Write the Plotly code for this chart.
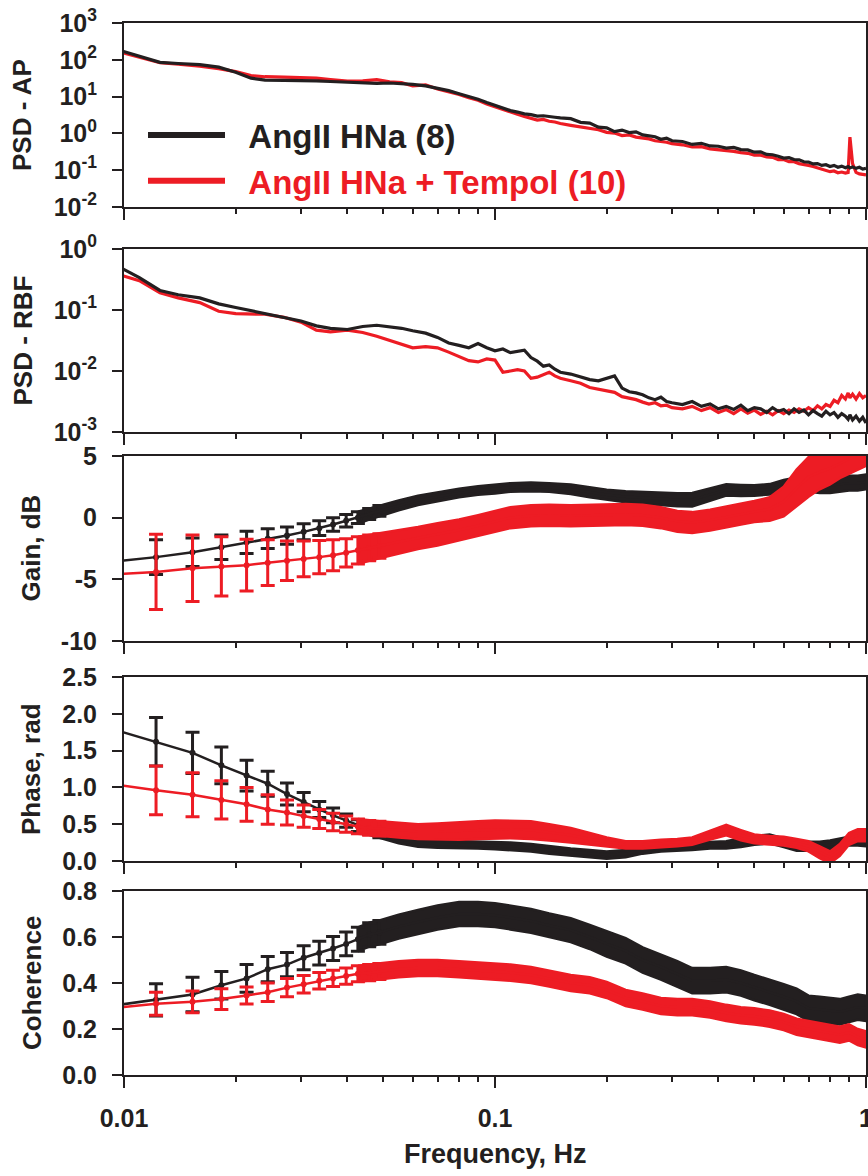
import plotly.graph_objects as go
from plotly.subplots import make_subplots

INK = "#231f20"
RED = "#ed1c24"
FONT = "Liberation Sans, Arial, sans-serif"

# ---------------- power spectra ----------------
psd_freq = [0.0092, 0.011, 0.0125, 0.014, 0.016, 0.018, 0.02, 0.022, 0.024, 0.027,
            0.03, 0.033, 0.036, 0.04, 0.044, 0.048, 0.052, 0.056, 0.06, 0.065,
            0.07, 0.075, 0.08, 0.085, 0.09, 0.095, 0.1, 0.105, 0.11, 0.115,
            0.12, 0.125, 0.13, 0.135, 0.14, 0.145, 0.15, 0.16, 0.17, 0.18,
            0.19, 0.2, 0.21, 0.22, 0.23, 0.24, 0.25, 0.26, 0.27, 0.28,
            0.29, 0.3, 0.32, 0.34, 0.36, 0.38, 0.4, 0.42, 0.44, 0.46,
            0.48, 0.5, 0.52, 0.54, 0.56, 0.58, 0.6, 0.62, 0.64, 0.66,
            0.68, 0.7, 0.72, 0.74, 0.76, 0.78, 0.8, 0.82, 0.84, 0.86,
            0.88, 0.895, 0.905, 0.92, 0.94, 0.96, 0.98, 1.0]

ap_hna = [214, 126, 85.1, 79.4, 74.1, 63.1, 45.7, 31.6, 28.2, 27.5,
          27.5, 26.9, 25.7, 24.5, 23.4, 22.9, 23.4, 22.9, 21.4, 19.5,
          17.0, 14.5, 12.0, 10.2, 8.51, 6.92, 5.75, 5.01, 4.17, 3.80,
          3.39, 3.24, 2.95, 3.02, 2.82, 2.75, 2.63, 2.51, 2.0, 1.91,
          1.48, 1.41, 1.12, 1.23, 1.05, 1.10, 0.912, 0.871, 0.813, 0.692,
          0.741, 0.631, 0.603, 0.501, 0.537, 0.457, 0.447, 0.398, 0.417, 0.363,
          0.355, 0.309, 0.316, 0.269, 0.263, 0.240, 0.214, 0.219, 0.195, 0.191,
          0.170, 0.166, 0.148, 0.151, 0.135, 0.141, 0.126, 0.135, 0.120, 0.129,
          0.117, 0.126, 0.115, 0.123, 0.112, 0.120, 0.107, 0.112]

ap_tempol = [191, 115, 83.2, 75.9, 67.6, 57.5, 47.9, 37.2, 34.7, 33.9,
             33.1, 31.6, 28.8, 26.3, 26.9, 28.8, 25.1, 24.0, 19.5, 20.9,
             16.2, 13.8, 11.5, 9.33, 7.94, 6.31, 5.25, 4.37, 3.72, 3.31,
             2.88, 2.63, 2.29, 2.40, 2.14, 2.04, 1.86, 1.66, 1.51, 1.32,
             1.26, 1.07, 1.02, 0.871, 0.912, 0.794, 0.759, 0.708, 0.631, 0.603,
             0.575, 0.525, 0.490, 0.427, 0.437, 0.380, 0.363, 0.339, 0.324, 0.302,
             0.288, 0.257, 0.257, 0.229, 0.224, 0.195, 0.195, 0.170, 0.170, 0.151,
             0.145, 0.135, 0.126, 0.117, 0.107, 0.100, 0.0912, 0.0955, 0.0851, 0.0891,
             0.0832, 0.0871, 0.794, 0.151, 0.0871, 0.0794, 0.0759, 0.0741]

rbf_hna = [0.603, 0.339, 0.209, 0.178, 0.158, 0.126, 0.110, 0.0977, 0.0871, 0.0759,
           0.0661, 0.0550, 0.0501, 0.0479, 0.0537, 0.0562, 0.0537, 0.0501, 0.0457, 0.0417,
           0.0355, 0.0288, 0.0263, 0.0240, 0.0282, 0.0240, 0.0214, 0.0229, 0.0200, 0.0209,
           0.0219, 0.0166, 0.0145, 0.0120, 0.0126, 0.0107, 0.00955, 0.00891, 0.00794, 0.00724,
           0.00692, 0.00759, 0.00832, 0.00525, 0.00457, 0.00437, 0.00407, 0.00363, 0.00339, 0.00372,
           0.00316, 0.00302, 0.00282, 0.00316, 0.00263, 0.00288, 0.00240, 0.00263, 0.00234, 0.00275,
           0.00224, 0.00251, 0.00240, 0.00209, 0.00251, 0.00219, 0.00234, 0.00200, 0.00240, 0.00209,
           0.00229, 0.00191, 0.00224, 0.00200, 0.00182, 0.00219, 0.00191, 0.00209, 0.00174, 0.00200,
           0.00182, 0.00162, 0.00191, 0.00158, 0.00182, 0.00151, 0.00174, 0.00141]

rbf_tempol = [0.417, 0.302, 0.191, 0.158, 0.132, 0.0955, 0.0871, 0.0851, 0.0851, 0.0759,
              0.0631, 0.0468, 0.0437, 0.0468, 0.0427, 0.0372, 0.0316, 0.0269, 0.0240, 0.0251,
              0.0240, 0.0204, 0.0174, 0.0148, 0.0141, 0.0158, 0.0151, 0.00955, 0.0100, 0.0105,
              0.0100, 0.00759, 0.00794, 0.00871, 0.00955, 0.00832, 0.00759, 0.00692, 0.00631, 0.00537,
              0.00501, 0.00468, 0.00447, 0.00380, 0.00363, 0.00339, 0.00309, 0.00288, 0.00302, 0.00269,
              0.00275, 0.00251, 0.00240, 0.00263, 0.00224, 0.00251, 0.00209, 0.00234, 0.00200, 0.00240,
              0.00204, 0.00229, 0.00195, 0.00219, 0.00191, 0.00224, 0.00200, 0.00229, 0.00209, 0.00240,
              0.00219, 0.00251, 0.00224, 0.00269, 0.00240, 0.00282, 0.00263, 0.00331, 0.00302, 0.00398,
              0.00347, 0.00437, 0.00363, 0.00417, 0.00347, 0.00427, 0.00363, 0.00398]

# ---------------- transfer function (mean and SEM) ----------------
tf_freq = [0.0092, 0.0122, 0.0153, 0.0183, 0.0214, 0.0244, 0.0275, 0.0305, 0.0336, 0.0366,
           0.0397, 0.0427, 0.0458, 0.0488, 0.055, 0.062, 0.07, 0.08, 0.09, 0.1,
           0.11, 0.125, 0.14, 0.16, 0.18, 0.2, 0.225, 0.25, 0.28, 0.31,
           0.34, 0.38, 0.42, 0.46, 0.5, 0.55, 0.6, 0.65, 0.7, 0.75,
           0.8, 0.85, 0.9, 0.95, 1.0]

gain_hna = [-3.6, -3.2, -2.8, -2.4, -2.0, -1.7, -1.45, -1.15, -0.85, -0.55,
            -0.25, 0.0, 0.3, 0.55, 1.0, 1.4, 1.7, 2.0, 2.2, 2.3,
            2.45, 2.5, 2.45, 2.3, 2.05, 1.85, 1.7, 1.6, 1.5, 1.45,
            1.45, 1.9, 2.25, 2.2, 2.2, 2.3, 2.6, 2.75, 2.7, 2.6,
            2.6, 2.7, 2.8, 2.8, 2.9]
gain_hna_sem = [1.5, 1.4, 1.15, 1.0, 0.9, 0.8, 0.7, 0.65, 0.6, 0.55,
                0.5, 0.48, 0.45, 0.43, 0.4, 0.38, 0.36, 0.35, 0.35, 0.35,
                0.35, 0.35, 0.35, 0.38, 0.4, 0.42, 0.45, 0.48, 0.5, 0.52,
                0.55, 0.5, 0.45, 0.45, 0.42, 0.42, 0.45, 0.5, 0.55, 0.6,
                0.6, 0.6, 0.6, 0.6, 0.6]
gain_tempol = [-4.6, -4.4, -4.1, -3.95, -3.85, -3.65, -3.5, -3.35, -3.2, -3.05,
               -2.85, -2.65, -2.45, -2.3, -1.95, -1.65, -1.35, -1.0, -0.65, -0.3,
               0.0, 0.15, 0.2, 0.15, 0.2, 0.2, 0.25, 0.2, 0.0, -0.3,
               -0.4, -0.2, 0.05, 0.3, 0.5, 0.7, 1.3, 2.4, 3.3, 3.7,
               4.0, 4.4, 4.8, 5.1, 5.4]
gain_tempol_sem = [3.2, 3.05, 2.7, 2.4, 2.1, 1.85, 1.6, 1.45, 1.35, 1.25,
                   1.15, 1.1, 1.05, 1.0, 0.95, 0.9, 0.9, 0.85, 0.85, 0.85,
                   0.85, 0.85, 0.85, 0.85, 0.85, 0.85, 0.85, 0.85, 0.85, 0.85,
                   0.85, 0.85, 0.85, 0.85, 0.85, 0.95, 1.2, 1.5, 1.6, 1.4,
                   1.3, 1.2, 1.2, 1.2, 1.2]

phase_hna = [1.80, 1.62, 1.47, 1.30, 1.16, 1.05, 0.91, 0.80, 0.70, 0.62,
             0.55, 0.48, 0.43, 0.38, 0.30, 0.25, 0.23, 0.22, 0.22, 0.21,
             0.20, 0.18, 0.15, 0.12, 0.10, 0.08, 0.10, 0.15, 0.18, 0.19,
             0.20, 0.22, 0.22, 0.25, 0.28, 0.30, 0.25, 0.20, 0.20, 0.20,
             0.22, 0.25, 0.27, 0.27, 0.26]
phase_hna_sem = [0.38, 0.33, 0.28, 0.25, 0.21, 0.17, 0.15, 0.13, 0.11, 0.10,
                 0.09, 0.08, 0.07, 0.065, 0.06, 0.055, 0.05, 0.05, 0.05, 0.05,
                 0.05, 0.05, 0.05, 0.05, 0.05, 0.05, 0.05, 0.05, 0.05, 0.05,
                 0.05, 0.05, 0.05, 0.06, 0.06, 0.06, 0.06, 0.06, 0.06, 0.06,
                 0.06, 0.06, 0.06, 0.06, 0.06]
phase_tempol = [1.05, 0.96, 0.90, 0.83, 0.77, 0.70, 0.66, 0.61, 0.57, 0.53,
                0.50, 0.47, 0.45, 0.44, 0.42, 0.40, 0.40, 0.41, 0.42, 0.43,
                0.43, 0.42, 0.39, 0.35, 0.30, 0.26, 0.22, 0.22, 0.24, 0.25,
                0.27, 0.35, 0.42, 0.35, 0.30, 0.28, 0.27, 0.24, 0.20, 0.12,
                0.05, 0.15, 0.30, 0.35, 0.35]
phase_tempol_sem = [0.36, 0.33, 0.30, 0.26, 0.23, 0.20, 0.17, 0.15, 0.13, 0.12,
                    0.11, 0.10, 0.10, 0.10, 0.10, 0.10, 0.11, 0.12, 0.12, 0.12,
                    0.12, 0.12, 0.11, 0.10, 0.08, 0.06, 0.05, 0.05, 0.05, 0.05,
                    0.05, 0.06, 0.07, 0.07, 0.06, 0.06, 0.06, 0.06, 0.07, 0.08,
                    0.08, 0.08, 0.08, 0.08, 0.08]

coh_hna = [0.30, 0.327, 0.35, 0.39, 0.42, 0.46, 0.48, 0.51, 0.53, 0.55,
           0.57, 0.59, 0.61, 0.62, 0.645, 0.665, 0.685, 0.70, 0.70, 0.695,
           0.685, 0.67, 0.65, 0.63, 0.60, 0.57, 0.54, 0.50, 0.47, 0.44,
           0.41, 0.41, 0.415, 0.40, 0.38, 0.36, 0.34, 0.32, 0.29, 0.285,
           0.28, 0.275, 0.285, 0.295, 0.29]
coh_hna_sem = [0.07, 0.07, 0.075, 0.06, 0.06, 0.055, 0.053, 0.052, 0.052, 0.052,
               0.052, 0.052, 0.052, 0.052, 0.052, 0.052, 0.052, 0.052, 0.052, 0.052,
               0.052, 0.052, 0.052, 0.052, 0.052, 0.055, 0.055, 0.055, 0.055, 0.055,
               0.055, 0.055, 0.055, 0.055, 0.055, 0.055, 0.055, 0.055, 0.055, 0.055,
               0.055, 0.055, 0.055, 0.055, 0.055]
coh_tempol = [0.29, 0.31, 0.318, 0.33, 0.346, 0.36, 0.38, 0.395, 0.41, 0.42,
              0.43, 0.44, 0.445, 0.45, 0.46, 0.465, 0.465, 0.46, 0.455, 0.45,
              0.445, 0.435, 0.42, 0.40, 0.39, 0.37, 0.335, 0.32, 0.30, 0.295,
              0.295, 0.285, 0.27, 0.26, 0.255, 0.245, 0.23, 0.21, 0.20, 0.19,
              0.183, 0.175, 0.185, 0.165, 0.155]
coh_tempol_sem = [0.05, 0.05, 0.047, 0.045, 0.037, 0.04, 0.04, 0.038, 0.036, 0.035,
                  0.035, 0.035, 0.035, 0.035, 0.035, 0.035, 0.035, 0.035, 0.035, 0.035,
                  0.035, 0.035, 0.035, 0.035, 0.035, 0.035, 0.035, 0.035, 0.035, 0.035,
                  0.035, 0.035, 0.035, 0.035, 0.035, 0.035, 0.035, 0.035, 0.035, 0.035,
                  0.035, 0.035, 0.035, 0.035, 0.035]

# error bars are drawn one by one for the sparse low-frequency bins,
# then as a continuous band where the bins crowd together
BAR_FIRST, BAR_LAST = 1, 13
BAND_FIRST = 11

W, H = 868, 1176
PANELS_PX = [(23, 207), (249, 432), (456, 641), (677, 861), (891, 1075)]
PLOT_L, PLOT_R = 124, 2
plot_w = W - PLOT_L - PLOT_R

fig = make_subplots(rows=5, cols=1)

# legend entries (thicker strokes than the spectra themselves)
GAP = "\u00a0\u00a0"
fig.add_trace(go.Scatter(x=[None], y=[None], mode="lines",
                         line=dict(color=INK, width=6),
                         name=GAP + "AngII HNa (8)"), row=1, col=1)
fig.add_trace(go.Scatter(x=[None], y=[None], mode="lines",
                         line=dict(color=RED, width=6),
                         name=GAP + "<span style='color:%s'>AngII HNa + Tempol (10)</span>" % RED),
              row=1, col=1)


def add_psd(row, hna, tempol):
    fig.add_trace(go.Scatter(x=psd_freq, y=tempol, mode="lines",
                             line=dict(color=RED, width=3.2), showlegend=False),
                  row=row, col=1)
    fig.add_trace(go.Scatter(x=psd_freq, y=hna, mode="lines",
                             line=dict(color=INK, width=3.2), showlegend=False),
                  row=row, col=1)


def add_tf(row, mean, sem, color):
    band_x = tf_freq[BAND_FIRST:] + tf_freq[BAND_FIRST:][::-1]
    upper = [m + s for m, s in zip(mean[BAND_FIRST:], sem[BAND_FIRST:])]
    lower = [m - s for m, s in zip(mean[BAND_FIRST:], sem[BAND_FIRST:])]
    fig.add_trace(go.Scatter(x=band_x, y=upper + lower[::-1], mode="lines",
                             fill="toself", fillcolor=color,
                             line=dict(color=color, width=2.5),
                             showlegend=False, hoverinfo="skip"), row=row, col=1)
    fig.add_trace(go.Scatter(x=tf_freq[BAR_FIRST:BAR_LAST + 1],
                             y=mean[BAR_FIRST:BAR_LAST + 1], mode="markers",
                             marker=dict(size=0, color=color),
                             error_y=dict(type="data", array=sem[BAR_FIRST:BAR_LAST + 1],
                                          visible=True, color=color, thickness=3, width=7),
                             showlegend=False), row=row, col=1)
    fig.add_trace(go.Scatter(x=tf_freq, y=mean, mode="lines",
                             line=dict(color=color, width=2.5),
                             showlegend=False), row=row, col=1)


add_psd(1, ap_hna, ap_tempol)
add_psd(2, rbf_hna, rbf_tempol)
add_tf(3, gain_hna, gain_hna_sem, INK)
add_tf(3, gain_tempol, gain_tempol_sem, RED)
add_tf(4, phase_hna, phase_hna_sem, INK)
add_tf(4, phase_tempol, phase_tempol_sem, RED)
add_tf(5, coh_hna, coh_hna_sem, INK)
add_tf(5, coh_tempol, coh_tempol_sem, RED)

tick_font = dict(family=FONT, size=25, color=INK, weight="bold")
minor_vals = [d * 0.01 for d in range(2, 10)] + [d * 0.1 for d in range(2, 10)]

for i in range(1, 6):
    fig.update_xaxes(row=i, col=1, type="log", range=[-2, 0],
                     showline=True, linewidth=2, linecolor=INK, mirror=True,
                     ticks="outside", ticklen=11, tickwidth=2, tickcolor=INK,
                     tickvals=[0.01, 0.1, 1], ticktext=["0.01", "0.1", "1"],
                     showticklabels=(i == 5), tickfont=tick_font,
                     ticklabeloverflow="allow", ticklabelstandoff=9,
                     minor=dict(tickvals=minor_vals, ticks="outside", ticklen=5,
                                tickwidth=2, tickcolor=INK, showgrid=False),
                     showgrid=False, zeroline=False, automargin=False)

y_specs = [
    dict(type="log", range=[-2, 3], tickvals=[0.01, 0.1, 1, 10, 100, 1000],
         ticktext=["10<sup>-2</sup>", "10<sup>-1</sup>", "10<sup>0</sup>",
                   "10<sup>1</sup>", "10<sup>2</sup>", "10<sup>3</sup>"]),
    dict(type="log", range=[-3, 0], tickvals=[0.001, 0.01, 0.1, 1],
         ticktext=["10<sup>-3</sup>", "10<sup>-2</sup>", "10<sup>-1</sup>", "10<sup>0</sup>"]),
    dict(range=[-10, 5], tickvals=[-10, -5, 0, 5], ticktext=["-10", "-5", "0", "5"]),
    dict(range=[0, 2.5], tickvals=[0, 0.5, 1, 1.5, 2, 2.5],
         ticktext=["0.0", "0.5", "1.0", "1.5", "2.0", "2.5"]),
    dict(range=[0, 0.8], tickvals=[0, 0.2, 0.4, 0.6, 0.8],
         ticktext=["0.0", "0.2", "0.4", "0.6", "0.8"]),
]
for i, spec in enumerate(y_specs, start=1):
    top, bot = PANELS_PX[i - 1]
    fig.update_yaxes(row=i, col=1, domain=[1 - bot / H, 1 - top / H],
                     showline=True, linewidth=2, linecolor=INK, mirror=True,
                     ticks="outside", ticklen=10, tickwidth=2, tickcolor=INK,
                     tickfont=tick_font, ticklabelstandoff=10,
                     showgrid=False, zeroline=False, automargin=False, **spec)

titles = [("PSD - AP", 22), ("PSD - RBF", 22), ("Gain, dB", 30),
          ("Phase, rad", 31), ("Coherence", 32)]
for (text, cx), (top, bot) in zip(titles, PANELS_PX):
    fig.add_annotation(text=text, xref="paper", yref="paper",
                       x=(cx - PLOT_L) / plot_w, y=1 - (top + bot) / 2 / H,
                       xanchor="center", yanchor="middle", textangle=-90,
                       showarrow=False,
                       font=dict(family=FONT, size=26, color=INK, weight="bold"))
fig.add_annotation(text="Frequency, Hz", xref="paper", yref="paper",
                   x=0.5, y=1 - 1154 / H, xanchor="center", yanchor="middle",
                   showarrow=False,
                   font=dict(family=FONT, size=27, color=INK, weight="bold"))

fig.update_layout(
    width=W, height=H,
    margin=dict(l=PLOT_L, r=PLOT_R, t=0, b=0),
    paper_bgcolor="white", plot_bgcolor="white",
    showlegend=True,
    legend=dict(x=(143 - PLOT_L) / plot_w, y=1 - 107 / H, xanchor="left", yanchor="top",
                bgcolor="rgba(0,0,0,0)", borderwidth=0, itemwidth=77,
                traceorder="normal", tracegroupgap=0,
                font=dict(family=FONT, size=33, color=INK, weight="bold")),
)

fig.write_html("out.html")
